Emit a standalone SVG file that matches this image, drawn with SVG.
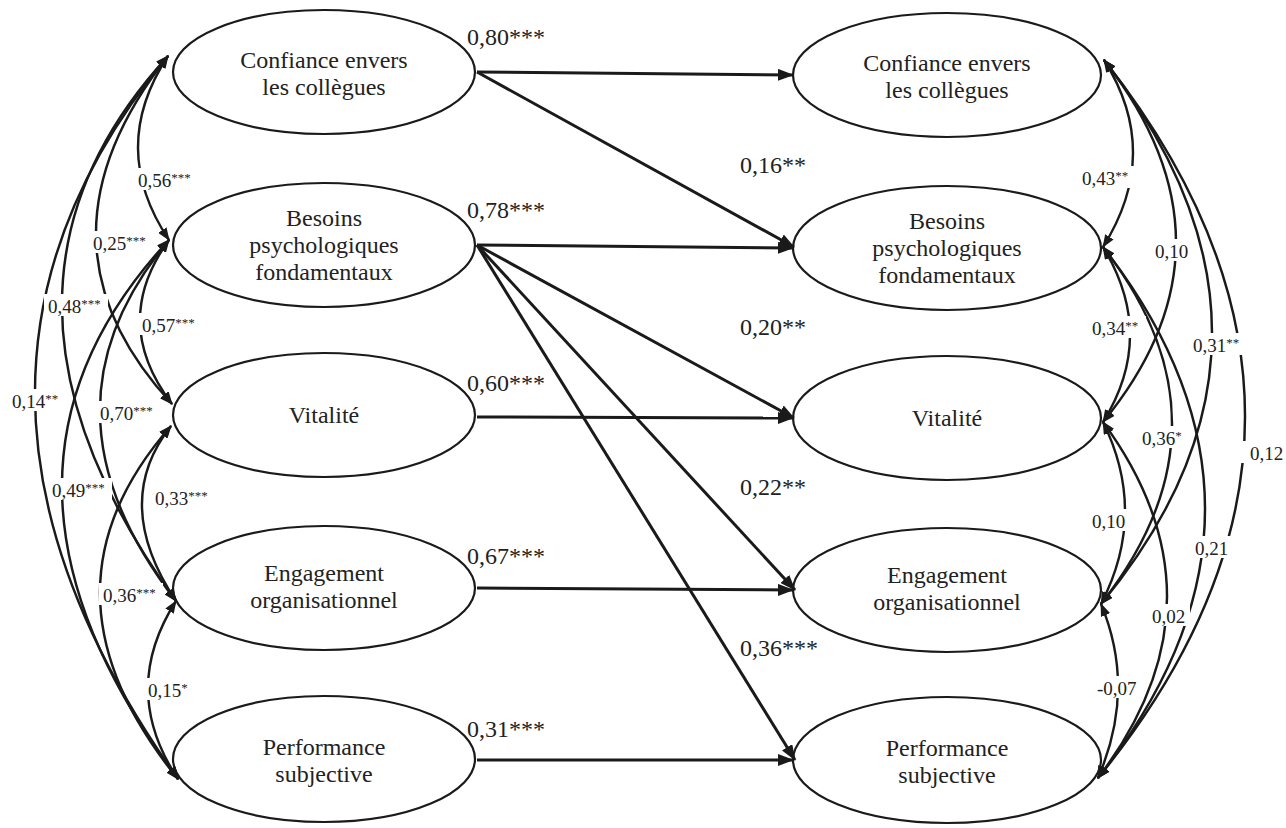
<svg xmlns="http://www.w3.org/2000/svg" width="1286" height="828" viewBox="0 0 1286 828">
<defs>
<style>
.node ellipse{fill:#fff;stroke:#1a1a1a;stroke-width:2.2}
.nt{font-family:"Liberation Serif","Times New Roman",serif;font-size:24px;fill:#222;text-anchor:middle}
.path{fill:none;stroke:#1a1a1a;stroke-width:3;marker-end:url(#ah)}
.cor{fill:none;stroke:#1a1a1a;stroke-width:2.4;marker-start:url(#ch);marker-end:url(#ch)}
.pl{font-family:"Liberation Serif","Times New Roman",serif;font-size:24px;fill:#222}
.cl{font-family:"Liberation Serif","Times New Roman",serif;font-size:19px;fill:#222}
.st{font-size:13px}
.bg{fill:#fff}
</style>
<marker id="ah" markerUnits="userSpaceOnUse" markerWidth="16" markerHeight="12" refX="15" refY="6" orient="auto"><path d="M0,0 L16,6 L0,12 z" fill="#1a1a1a"/></marker>
<marker id="ch" markerUnits="userSpaceOnUse" markerWidth="13" markerHeight="10" refX="12" refY="5" orient="auto-start-reverse"><path d="M0,0 L13,5 L0,10 z" fill="#1a1a1a"/></marker>
</defs>
<rect width="1286" height="828" fill="#fff"/>

<g id="nodes-left">
<g id="L1" class="node"><ellipse cx="324" cy="72" rx="151" ry="62"/><text class="nt" x="324" y="68">Confiance envers</text><text class="nt" x="324" y="95">les collègues</text></g>
<g id="L2" class="node"><ellipse cx="324" cy="245" rx="151" ry="62"/><text class="nt" x="324" y="226">Besoins</text><text class="nt" x="324" y="253">psychologiques</text><text class="nt" x="324" y="280">fondamentaux</text></g>
<g id="L3" class="node"><ellipse cx="324" cy="415" rx="151" ry="62"/><text class="nt" x="324" y="423">Vitalité</text></g>
<g id="L4" class="node"><ellipse cx="324" cy="588" rx="151" ry="62"/><text class="nt" x="324" y="581">Engagement</text><text class="nt" x="324" y="608">organisationnel</text></g>
<g id="L5" class="node"><ellipse cx="324" cy="759" rx="151" ry="63"/><text class="nt" x="324" y="755">Performance</text><text class="nt" x="324" y="782">subjective</text></g>
</g>

<g id="nodes-right">
<g id="R1" class="node"><ellipse cx="947" cy="75" rx="154" ry="62"/><text class="nt" x="947" y="71">Confiance envers</text><text class="nt" x="947" y="98">les collègues</text></g>
<g id="R2" class="node"><ellipse cx="947" cy="248" rx="154" ry="62"/><text class="nt" x="947" y="229">Besoins</text><text class="nt" x="947" y="256">psychologiques</text><text class="nt" x="947" y="283">fondamentaux</text></g>
<g id="R3" class="node"><ellipse cx="947" cy="418" rx="154" ry="62"/><text class="nt" x="947" y="426">Vitalité</text></g>
<g id="R4" class="node"><ellipse cx="947" cy="590" rx="154" ry="62"/><text class="nt" x="947" y="583">Engagement</text><text class="nt" x="947" y="610">organisationnel</text></g>
<g id="R5" class="node"><ellipse cx="947" cy="760" rx="154" ry="63"/><text class="nt" x="947" y="756">Performance</text><text class="nt" x="947" y="783">subjective</text></g>
</g>

<g id="connectors">
<g id="paths">
<path class="path" d="M477,72 L793,75"/>
<path class="path" d="M477,72 L794,247"/>
<path class="path" d="M477,245 L793,248"/>
<path class="path" d="M477,245 L794,418"/>
<path class="path" d="M477,245 L795,590"/>
<path class="path" d="M477,245 L795,760"/>
<path class="path" d="M477,417 L793,418"/>
<path class="path" d="M477,588 L793,590"/>
<path class="path" d="M477,760 L793,760"/>
</g>
<g id="cor-left">
<path class="cor" d="M168,56 Q107.5,148 169,240"/>
<path class="cor" d="M168,56 Q22,242 172,404"/>
<path class="cor" d="M168,56 Q-48,291.5 176,601"/>
<path class="cor" d="M168,56 Q-103,382.5 178,779"/>
<path class="cor" d="M169,240 Q109.5,322 172,404"/>
<path class="cor" d="M169,240 Q27.5,409.5 176,601"/>
<path class="cor" d="M169,240 Q-49.5,474.5 178,779"/>
<path class="cor" d="M171,426 Q110.5,502.5 176,601"/>
<path class="cor" d="M171,426 Q25.5,591.5 178,779"/>
<path class="cor" d="M176,601 Q119,690 178,779"/>
</g>
<g id="cor-right">
<path class="cor" d="M1104,60 Q1162.5,152.5 1103,247"/>
<path class="cor" d="M1104,60 Q1248.5,245 1103,422"/>
<path class="cor" d="M1103,247 Q1157,335.5 1103,422"/>
<path class="cor" d="M1104,60 Q1321.5,338 1101,604"/>
<path class="cor" d="M1103,247 Q1242,424.5 1101,604"/>
<path class="cor" d="M1104,60 Q1389,421 1098,778"/>
<path class="cor" d="M1103,422 Q1148,513 1101,604"/>
<path class="cor" d="M1103,247 Q1309.5,511.5 1098,778"/>
<path class="cor" d="M1103,422 Q1233.5,600 1098,778"/>
<path class="cor" d="M1101,604 Q1136.5,689 1098,778"/>
</g>
</g>

<g id="path-labels">
<text class="pl" x="467" y="45">0,80***</text>
<text class="pl" x="740" y="173">0,16**</text>
<text class="pl" x="467" y="218">0,78***</text>
<text class="pl" x="740" y="335">0,20**</text>
<text class="pl" x="467" y="391">0,60***</text>
<text class="pl" x="740" y="495">0,22**</text>
<text class="pl" x="467" y="564">0,67***</text>
<text class="pl" x="740" y="656">0,36***</text>
<text class="pl" x="467" y="737">0,31***</text>
</g>

<g id="cor-labels-left">
<rect class="bg" x="134" y="168" width="64" height="22"/><text class="cl" x="138" y="187">0,56<tspan class="st" dy="-5">***</tspan></text>
<rect class="bg" x="89" y="231" width="64" height="22"/><text class="cl" x="93" y="250">0,25<tspan class="st" dy="-5">***</tspan></text>
<rect class="bg" x="44" y="294" width="64" height="22"/><text class="cl" x="48" y="313">0,48<tspan class="st" dy="-5">***</tspan></text>
<rect class="bg" x="8" y="389" width="56" height="22"/><text class="cl" x="12" y="408">0,14<tspan class="st" dy="-5">**</tspan></text>
<rect class="bg" x="138" y="313" width="64" height="22"/><text class="cl" x="142" y="332">0,57<tspan class="st" dy="-5">***</tspan></text>
<rect class="bg" x="96" y="401" width="64" height="22"/><text class="cl" x="100" y="420">0,70<tspan class="st" dy="-5">***</tspan></text>
<rect class="bg" x="48" y="478" width="64" height="22"/><text class="cl" x="52" y="497">0,49<tspan class="st" dy="-5">***</tspan></text>
<rect class="bg" x="151" y="486" width="56" height="22"/><text class="cl" x="155" y="505">0,33<tspan class="st" dy="-5">***</tspan></text>
<rect class="bg" x="99" y="583" width="64" height="22"/><text class="cl" x="103" y="602">0,36<tspan class="st" dy="-5">***</tspan></text>
<rect class="bg" x="144" y="678" width="50" height="22"/><text class="cl" x="148" y="697">0,15<tspan class="st" dy="-5">*</tspan></text>
</g>

<g id="cor-labels-right">
<rect class="bg" x="1078" y="166" width="58" height="22"/><text class="cl" x="1082" y="185">0,43<tspan class="st" dy="-5">**</tspan></text>
<rect class="bg" x="1151" y="239" width="42" height="22"/><text class="cl" x="1155" y="258">0,10</text>
<rect class="bg" x="1088" y="316" width="58" height="22"/><text class="cl" x="1092" y="335">0,34<tspan class="st" dy="-5">**</tspan></text>
<rect class="bg" x="1189" y="333" width="58" height="22"/><text class="cl" x="1193" y="352">0,31<tspan class="st" dy="-5">**</tspan></text>
<rect class="bg" x="1138" y="426" width="48" height="22"/><text class="cl" x="1142" y="445">0,36<tspan class="st" dy="-5">*</tspan></text>
<rect class="bg" x="1238" y="441" width="48" height="22"/><text class="cl" x="1250" y="460">0,12</text>
<rect class="bg" x="1088" y="509" width="42" height="22"/><text class="cl" x="1092" y="528">0,10</text>
<rect class="bg" x="1191" y="536" width="42" height="22"/><text class="cl" x="1195" y="555">0,21</text>
<rect class="bg" x="1148" y="604" width="42" height="22"/><text class="cl" x="1152" y="623">0,02</text>
<rect class="bg" x="1093" y="676" width="46" height="22"/><text class="cl" x="1097" y="695">-0,07</text>
</g>
</svg>
